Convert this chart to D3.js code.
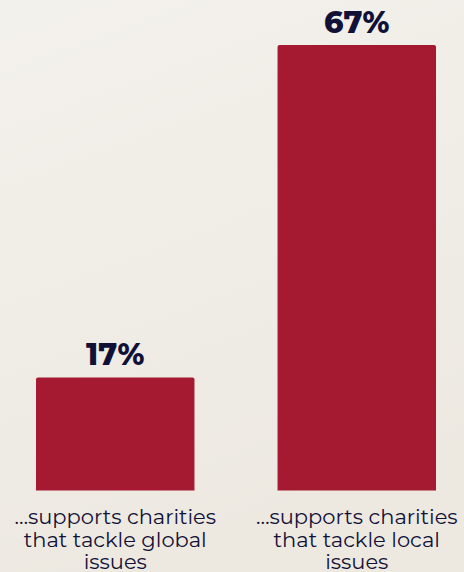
<!DOCTYPE html>
<html>
<head>
<meta charset="utf-8">
<script src="https://cdn.jsdelivr.net/npm/d3@7"></script>
<style>
  html, body { margin: 0; padding: 0; }
  body { width: 464px; height: 572px; overflow: hidden; }
</style>
</head>
<body>
<svg id="chart" width="464" height="572"></svg>
<script>
// Share of respondents by the kind of charity they support
const categories = ["global", "local"];
const categoryLabels = [
  ["…supports charities", "that tackle global", "issues"],
  ["…supports charities", "that tackle local", "issues"]
];
const values = [17, 67];
const valueLabels = ["17%", "67%"];

const W = 464, H = 572;
const svg = d3.select("#chart");

// soft warm paper background
const defs = svg.append("defs");
const grad = defs.append("linearGradient")
  .attr("id", "bg").attr("x1", 0).attr("y1", 0).attr("x2", 0.3).attr("y2", 1);
grad.append("stop").attr("offset", "0%").attr("stop-color", "#f3f1ec");
grad.append("stop").attr("offset", "100%").attr("stop-color", "#ede9e1");
svg.append("rect").attr("width", W).attr("height", H).attr("fill", "url(#bg)");

const x = d3.scaleBand()
  .domain(categories)
  .range([36, 436])
  .paddingInner(0.344)
  .paddingOuter(0);

const y = d3.scaleLinear()
  .domain([0, 67])
  .range([490.5, 45]);

const barColor = "#a51a30";
const ink = "#111138";
const font = "Montserrat, Inter, 'Open Sans', sans-serif";

// bars with slightly rounded top corners
function barPath(x0, w, yTop, yBot, r) {
  return `M${x0},${yBot}V${yTop + r}Q${x0},${yTop} ${x0 + r},${yTop}` +
         `H${x0 + w - r}Q${x0 + w},${yTop} ${x0 + w},${yTop + r}V${yBot}Z`;
}

svg.selectAll("path.bar")
  .data(values)
  .join("path")
  .attr("class", "bar")
  .attr("fill", barColor)
  .attr("d", (d, i) => barPath(x(categories[i]), x.bandwidth(), y(d), y(0), 2));

// value labels above bars
svg.selectAll("text.value")
  .data(values)
  .join("text")
  .attr("class", "value")
  .attr("x", (d, i) => x(categories[i]) + x.bandwidth() / 2)
  .attr("y", d => y(d) - 12)
  .attr("text-anchor", "middle")
  .attr("font-family", font)
  .attr("font-weight", 800)
  .attr("font-size", 30)
  .attr("fill", ink)
  .text((d, i) => valueLabels[i]);

// category labels under bars
const cat = svg.selectAll("text.cat")
  .data(categoryLabels)
  .join("text")
  .attr("class", "cat")
  .attr("text-anchor", "middle")
  .attr("font-family", font)
  .attr("font-size", 21)
  .attr("fill", ink);

cat.each(function (lines, i) {
  const cx = x(categories[i]) + x.bandwidth() / 2;
  d3.select(this).selectAll("tspan")
    .data(lines)
    .join("tspan")
    .attr("x", cx)
    .attr("y", (l, j) => 524 + j * 22.5)
    .text(l => l);
});
</script>
</body>
</html>
